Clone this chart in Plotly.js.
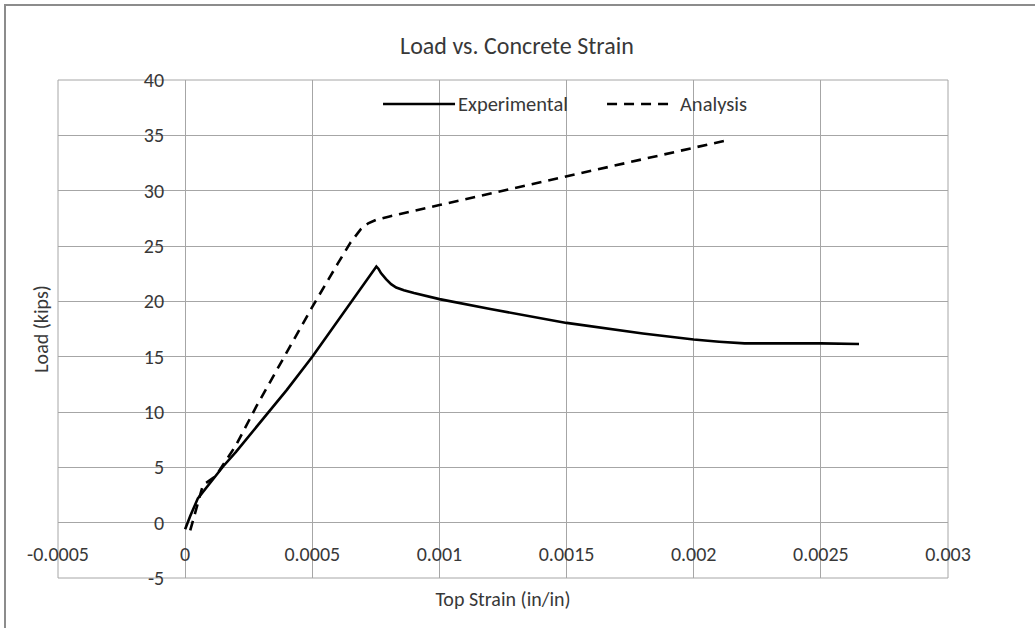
<!DOCTYPE html>
<html><head><meta charset="utf-8">
<script src="https://cdn.plot.ly/plotly-3.0.1.min.js"></script>
<style>
html,body{margin:0;padding:0;background:#fff;overflow:hidden;}
#frame{position:absolute;left:4px;top:4px;width:1100px;height:700px;border:2px solid #8c8c8c;background:#fff;}
</style></head><body>
<div id="frame"><div id="chart"></div></div>
<script>
// Experimental series (strain in/in, load kips)
const expStrain = [0, 0.00002, 0.00005, 0.0001, 0.00015, 0.0002, 0.00025, 0.0003, 0.0004, 0.0005, 0.0006, 0.0007, 0.000745, 0.000752, 0.00076, 0.00077, 0.00079, 0.00081, 0.00083, 0.00086, 0.0009, 0.00095, 0.001, 0.0012, 0.0015, 0.0018, 0.002, 0.0021, 0.0022, 0.0025, 0.00265];
const expLoad   = [-0.6, 0.6, 2.2, 3.7, 5.1, 6.4, 7.8, 9.2, 12.0, 15.0, 18.2, 21.4, 22.9, 23.15, 22.95, 22.55, 22.0, 21.55, 21.25, 21.0, 20.75, 20.45, 20.2, 19.3, 18.05, 17.1, 16.55, 16.35, 16.2, 16.2, 16.15];
// Analysis series
const anaStrain = [0.00002, 0.00004, 0.00007, 0.00012, 0.0002, 0.00028, 0.0004, 0.0005, 0.0006, 0.00065, 0.00069, 0.00072, 0.00075, 0.0008, 0.001, 0.0015, 0.002, 0.00212];
const anaLoad   = [-0.7, 1.0, 3.4, 4.2, 7.0, 10.5, 15.4, 19.5, 23.4, 25.3, 26.5, 27.05, 27.35, 27.65, 28.7, 31.3, 33.9, 34.5];

const xTickVals = [-0.0005, 0, 0.0005, 0.001, 0.0015, 0.002, 0.0025, 0.003];
const xTickText = ['-0.0005', '0', '0.0005', '0.001', '0.0015', '0.002', '0.0025', '0.003'];
const yTickVals = [-5, 0, 5, 10, 15, 20, 25, 30, 35, 40];
const yTickText = ['-5', '0', '5', '10', '15', '20', '25', '30', '35', '40'];
const seriesNames = ['Experimental', 'Analysis'];

const FONT = 'Carlito, Lato, "Noto Sans", sans-serif';
const TXT = '#383838';
const GRID = '#a6a6a6';

const xRange = [xTickVals[0], xTickVals[xTickVals.length - 1]];
const yRange = [yTickVals[0], yTickVals[yTickVals.length - 1]];

const traces = [
  {x: expStrain, y: expLoad, name: seriesNames[0], type: 'scatter', mode: 'lines',
   line: {color: '#000000', width: 2.6}, showlegend: false, hoverinfo: 'x+y'},
  {x: anaStrain, y: anaLoad, name: seriesNames[1], type: 'scatter', mode: 'lines',
   line: {color: '#000000', width: 2.6, dash: '10px,7px'}, showlegend: false, hoverinfo: 'x+y'}
];

const legY = 0.9518;
const layout = {
  width: 1100, height: 700,
  margin: {l: 52, t: 74, r: 158, b: 128, pad: 0},
  paper_bgcolor: '#ffffff', plot_bgcolor: '#ffffff',
  font: {family: FONT, color: TXT, size: 20},
  title: {text: 'Load vs. Concrete Strain', xref: 'container', x: 0.4645, yref: 'container', y: 0.944, yanchor: 'middle', xanchor: 'center',
          font: {family: FONT, size: 24, color: TXT}},
  xaxis: {
    range: xRange, tickvals: xTickVals, ticktext: xTickText,
    anchor: 'free', position: (0 - yRange[0]) / (yRange[1] - yRange[0]),
    showgrid: true, gridcolor: GRID, gridwidth: 1, zeroline: false, showline: false,
    ticks: '', ticklabelstandoff: 17,
    tickfont: {family: FONT, size: 20, color: TXT},
    title: {text: 'Top Strain (in/in)', font: {family: FONT, size: 20, color: TXT}, standoff: 27}
  },
  yaxis: {
    range: yRange, tickvals: yTickVals, ticktext: yTickText,
    anchor: 'free', position: (0 - xRange[0]) / (xRange[1] - xRange[0]),
    showgrid: true, gridcolor: GRID, gridwidth: 1, zeroline: false, showline: false,
    ticks: '', ticklabelstandoff: 21,
    tickfont: {family: FONT, size: 20, color: TXT},
    title: {text: 'Load (kips)', font: {family: FONT, size: 20, color: TXT}, standoff: 88}
  },
  shapes: [
    {type: 'rect', xref: 'paper', yref: 'paper', x0: 0, x1: 1, y0: 0, y1: 1, line: {color: GRID, width: 1}, layer: 'below'},
    {type: 'line', xref: 'paper', yref: 'paper', x0: 0.3652, x1: 0.4461, y0: legY, y1: legY, line: {color: '#000', width: 2.6}},
    {type: 'line', xref: 'paper', yref: 'paper', x0: 0.6169, x1: 0.6876, y0: legY, y1: legY, line: {color: '#000', width: 2.6, dash: '10px,7px'}}
  ],
  annotations: [
    {xref: 'paper', yref: 'paper', x: 0.4517, y: legY, xanchor: 'left', yanchor: 'middle', text: seriesNames[0], showarrow: false, font: {family: FONT, size: 20.5, color: TXT}, xshift: -4},
    {xref: 'paper', yref: 'paper', x: 0.7011, y: legY, xanchor: 'left', yanchor: 'middle', text: seriesNames[1], showarrow: false, font: {family: FONT, size: 20.5, color: TXT}, xshift: -4}
  ],
  showlegend: false
};

Plotly.newPlot('chart', traces, layout, {displayModeBar: false, staticPlot: true});
</script>
</body></html>
